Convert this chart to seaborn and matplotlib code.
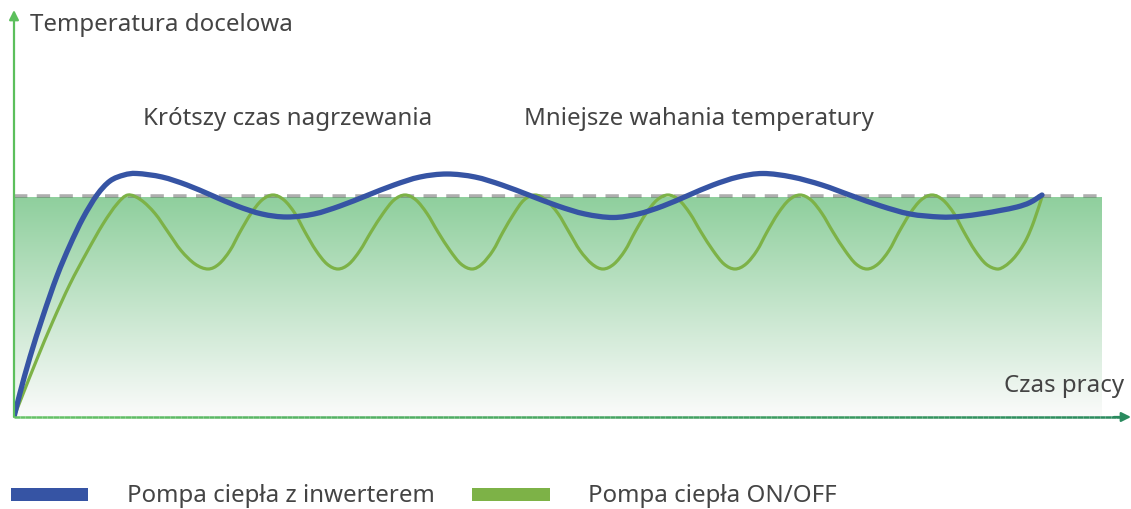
import numpy as np
import matplotlib
matplotlib.use("Agg")
import matplotlib.pyplot as plt
from matplotlib.colors import LinearSegmentedColormap
from matplotlib.collections import LineCollection
from matplotlib.patches import Rectangle, PathPatch
from matplotlib.path import Path
import seaborn as sns

sns.set_theme(style="white")
plt.rcParams['font.family'] = ['Noto Sans', 'DejaVu Sans']

# Dane (jednostki umowne: czas pracy / temperatura)
czas_inwerter = [0, 6, 16, 29, 43, 56, 69, 83, 96, 110, 123,
                 148, 173, 198, 223, 248, 273,
                 300, 326, 353, 380, 406, 433,
                 461, 488, 516, 544, 571, 599,
                 624, 649, 674, 699, 724, 749,
                 778, 808, 837, 867, 896, 926,
                 946, 969, 986, 1003, 1016, 1028]
temp_inwerter = [0, 24, 60, 101, 141, 172, 199, 222, 236, 242, 243.5,
                 240, 232, 221.5, 211, 203, 200,
                 203, 211, 221.5, 232, 240, 243,
                 240, 232, 221.5, 211, 203, 199.5,
                 203, 211, 221.5, 232, 240, 243.5,
                 240, 232, 221.5, 211, 203, 200,
                 200.5, 203.5, 206.5, 210, 214.5, 222]

czas_onoff = [0, 9, 23, 39, 56, 73, 89, 103, 114,
              127, 141, 154, 167, 181, 194,
              205, 216, 226, 237, 248, 259,
              270, 281, 291, 302, 313, 324,
              335, 346, 357, 369, 380, 391,
              402, 413, 424, 436, 447, 458,
              468, 479, 489, 500, 510, 521,
              532, 544, 555, 566, 578, 589,
              600, 611, 621, 632, 643, 654,
              665, 676, 687, 699, 710, 721,
              732, 743, 753, 764, 775, 786,
              797, 808, 819, 831, 842, 853,
              864, 875, 885, 896, 907, 918,
              929, 940, 950, 961, 972, 983,
              991, 999, 1006, 1013, 1020, 1028]
temp_onoff = [0, 23, 58, 96, 133, 165, 193, 213, 222,
              217, 203.5, 185, 166.5, 153, 148,
              153, 166.5, 185, 203.5, 217, 222,
              217, 203.5, 185, 166.5, 153, 148,
              153, 166.5, 185, 203.5, 217, 222,
              217, 203.5, 185, 166.5, 153, 148,
              153, 166.5, 185, 203.5, 217, 222,
              217, 203.5, 185, 166.5, 153, 148,
              153, 166.5, 185, 203.5, 217, 222,
              217, 203.5, 185, 166.5, 153, 148,
              153, 166.5, 185, 203.5, 217, 222,
              217, 203.5, 185, 166.5, 153, 148,
              153, 166.5, 185, 203.5, 217, 222,
              217, 203.5, 185, 166.5, 153, 148,
              151, 158, 167, 179, 196, 220]

temp_docelowa = 221
koniec_strefy = 1088

etykiety = ["Pompa ciepła z inwerterem", "Pompa ciepła ON/OFF"]
kolory = ["#3654a4", "#7db247"]

W, H = 1131, 509
TEXT_COLOR = "#444444"
FS = 17.3


def fx(x):
    return x / W


def fy(y):
    return 1 - y / H


def gladka_linia(x, y):
    # krzywa Catmulla-Roma przez odczytane punkty, rysowana jako krzywe Beziera
    pts = np.column_stack([x, y]).astype(float)
    verts = [pts[0]]
    codes = [Path.MOVETO]
    for i in range(len(pts) - 1):
        p0 = pts[i - 1] if i > 0 else pts[i]
        p1, p2 = pts[i], pts[i + 1]
        p3 = pts[i + 2] if i + 2 < len(pts) else pts[i + 1]
        verts += [p1 + (p2 - p0) / 6, p2 - (p3 - p1) / 6, p2]
        codes += [Path.CURVE4] * 3
    return Path(verts, codes)


fig = plt.figure(figsize=(W / 100, H / 100), dpi=100)
ax = fig.add_axes([fx(14), fy(417), (1131 - 14) / W, (417 - 10) / H])
ax.set_xlim(0, 1117)
ax.set_ylim(0, 407)
ax.axis("off")

# strefa z gradientem pod temperaturą docelową
cmap = LinearSegmentedColormap.from_list("strefa", ["#fbfbfb", "#8fcf9d"])
ax.imshow(np.linspace(0, 1, 256).reshape(-1, 1), origin="lower", cmap=cmap,
          extent=[0, koniec_strefy, 0, temp_docelowa - 1], aspect="auto", zorder=0)

# linia temperatury docelowej
sns.lineplot(x=[0, koniec_strefy], y=[temp_docelowa, temp_docelowa], ax=ax, color="#5f5f5f",
             alpha=0.5, lw=2.6, linestyle=(0, (3.7, 2.6)), zorder=1)

ax.add_patch(PathPatch(gladka_linia(czas_onoff, temp_onoff), fill=False, edgecolor=kolory[1],
                       lw=2.3, capstyle="round", joinstyle="round", zorder=2))
ax.add_patch(PathPatch(gladka_linia(czas_inwerter, temp_inwerter), fill=False, edgecolor=kolory[0],
                       lw=3.8, capstyle="round", joinstyle="round", zorder=3))

# osie ze strzałkami
ax.annotate("", xy=(0, 407), xytext=(0, 0),
            arrowprops=dict(arrowstyle="-|>", color="#5cbf5c", lw=1.6, mutation_scale=14,
                            shrinkA=0, shrinkB=0), annotation_clip=False)
n = 200
xs = np.linspace(0, 1108, n)
segs = [[(xs[i], 0), (xs[i + 1], 0)] for i in range(n - 1)]
grad = LinearSegmentedColormap.from_list("os", ["#66c266", "#2a8a5e"])
ax.add_collection(LineCollection(segs, colors=grad(np.linspace(0, 1, n - 1)), lw=1.8,
                                 clip_on=False, zorder=4))
ax.annotate("", xy=(1117, 0), xytext=(1100, 0),
            arrowprops=dict(arrowstyle="-|>", color="#2a8a5e", lw=1.6, mutation_scale=14,
                            shrinkA=0, shrinkB=0), annotation_clip=False)

# opisy
fig.text(fx(30), fy(31), "Temperatura docelowa", fontsize=FS, color=TEXT_COLOR, va="baseline")
fig.text(fx(143), fy(125), "Krótszy czas nagrzewania", fontsize=FS, color=TEXT_COLOR, va="baseline")
fig.text(fx(524), fy(125), "Mniejsze wahania temperatury", fontsize=FS, color=TEXT_COLOR, va="baseline")
fig.text(fx(1004), fy(392), "Czas pracy", fontsize=FS, color=TEXT_COLOR, va="baseline")

# legenda
for (x0, x1, xt), etykieta, kolor in zip([(11, 88, 127), (472, 550, 588)], etykiety, kolory):
    fig.patches.append(Rectangle((fx(x0), fy(501)), fx(x1 - x0), (501 - 488) / H,
                                 transform=fig.transFigure, facecolor=kolor, edgecolor="none"))
    fig.text(fx(xt), fy(502), etykieta, fontsize=FS, color=TEXT_COLOR, va="baseline")

fig.savefig("out.png", dpi=100)
